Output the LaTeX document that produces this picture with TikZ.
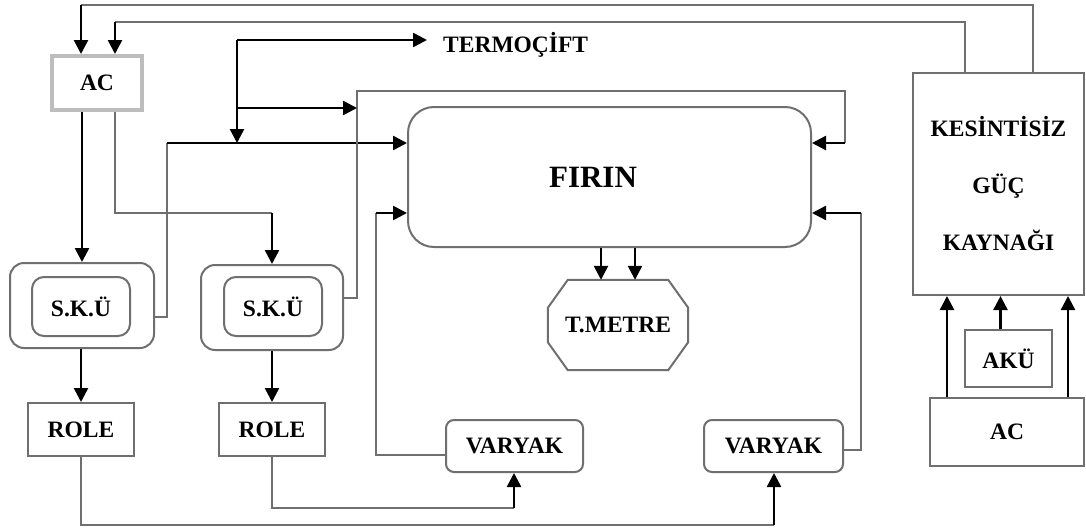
\documentclass[tikz,border=0pt]{standalone}
\usepackage{fontspec}
\setmainfont{Liberation Serif}
\usetikzlibrary{arrows.meta}
\definecolor{edge}{HTML}{6F6F6F}
\definecolor{lightedge}{HTML}{BDBDBD}
\tikzset{
  txt/.style={font=\fontsize{23.5}{28}\selectfont\bfseries, text=black},
  box/.style={txt, draw=edge, line width=2pt, inner sep=0pt},
  gline/.style={draw=edge, line width=2pt},
  barrow/.style={draw=black, line width=2.5pt, -{Triangle[length=14pt,width=14pt]}},
}
\begin{document}
\begin{tikzpicture}[x=1pt,y=-1pt]
\useasboundingbox (0,0) rectangle (1086,530);
\fill[white] (0,0) rectangle (1086,530);

% ---- blocks ----
\node[box, draw=lightedge, line width=4pt, minimum width=90pt, minimum height=54pt] (ac1) at (97,83) {AC};
\node[box, align=center, minimum width=171pt, minimum height=222pt] (kgk) at (998.5,184)
  {KESİNTİSİZ\\[29pt]GÜÇ\\[29pt]KAYNAĞI};
\node[box, minimum width=87pt, minimum height=57pt] (aku) at (1008.5,358.5) {AKÜ};
\node[box, minimum width=154pt, minimum height=68pt] (ac2) at (1007,432) {AC};

\node[box, rounded corners=26pt, minimum width=403pt, minimum height=140pt,
      font=\fontsize{31}{36}\selectfont\bfseries] (firin) at (609.5,177) {\hspace*{-33pt}FIRIN};

% thermometer: octagonal outline around a text node
\node[txt, inner sep=0pt, minimum width=140pt, minimum height=90pt] (tmetre) at (618,325) {T.METRE};
\draw[gline] ([xshift=20pt]tmetre.north west) -- ([xshift=-20pt]tmetre.north east)
  -- ([yshift=-28pt]tmetre.north east) -- ([yshift=28pt]tmetre.south east)
  -- ([xshift=-20pt]tmetre.south east) -- ([xshift=20pt]tmetre.south west)
  -- ([yshift=28pt]tmetre.south west) -- ([yshift=-28pt]tmetre.north west) -- cycle;

\node[txt, anchor=west, inner sep=0pt, inner xsep=16pt] (term) at (427,45) {TERMOÇİFT};

% temperature control units (outer frame + inner unit)
\node[box, rounded corners=14pt, minimum width=144pt, minimum height=85pt] (skuA) at (82,305.5) {};
\node[box, rounded corners=12pt, minimum width=98pt, minimum height=59pt] (skuAin) at (81,306.5) {S.K.Ü};
\node[box, rounded corners=14pt, minimum width=142pt, minimum height=85pt] (skuB) at (272,307.5) {};
\node[box, rounded corners=12pt, minimum width=98pt, minimum height=59pt] (skuBin) at (273,306.5) {S.K.Ü};

\node[box, minimum width=106pt, minimum height=53pt] (roleA) at (81,429.5) {ROLE};
\node[box, minimum width=106pt, minimum height=53pt] (roleB) at (272,429.5) {ROLE};

\node[box, rounded corners=8pt, minimum width=137pt, minimum height=52pt] (varA) at (514.5,446) {VARYAK};
\node[box, rounded corners=8pt, minimum width=139pt, minimum height=52pt] (varB) at (773.5,446) {VARYAK};

% ---- routing points ----
\coordinate (t1) at (81,5);
\coordinate (t2) at (115,22);
\coordinate (g1) at ([xshift=121pt]kgk.north west);
\coordinate (g2) at ([xshift=53pt]kgk.north west);
\coordinate (a2) at ([xshift=18pt]ac1.south);
\coordinate (j1) at (272,213);
\coordinate (j2) at (167,143);
\coordinate (j3) at (357,91);
\coordinate (j4) at (845,143);
\coordinate (j5) at (376,213);
\coordinate (j6) at (774,525);
\coordinate (j7) at (514,508);
\coordinate (j8) at (861,213);
\coordinate (k0) at (237,40);
\coordinate (k1) at (237,108);
\coordinate (k2) at (237,143);
\coordinate (m1) at ([xshift=-17pt]tmetre.north);
\coordinate (m2) at ([xshift=17pt]tmetre.north);
\coordinate (u1) at ([xshift=35pt]kgk.south west);
\coordinate (u2) at ([xshift=156pt]kgk.south west);
\coordinate (u3) at ([xshift=-8pt]aku.north);

% ---- UPS feedback to AC ----
\draw[gline] (g1) |- (t1);
\draw[barrow] (t1) -- (t1 |- ac1.north);
\draw[gline] (g2) |- (t2);
\draw[barrow] (t2) -- (t2 |- ac1.north);

% ---- AC to control units ----
\draw[barrow] (skuA.north |- ac1.south) -- (skuA.north);
\draw[gline] (a2) |- (j1);
\draw[barrow] (j1) -- (skuB.north);

% ---- control units to relays ----
\draw[barrow] (roleA.north |- skuA.south) -- (roleA.north);
\draw[barrow] (roleB.north |- skuB.south) -- (roleB.north);

% ---- control units to furnace ----
\draw[gline] ([yshift=-11.5pt]skuA.east) -| (j2);
\draw[barrow] (j2) -- (j2 -| firin.west);
\draw[gline] ([yshift=9.5pt]skuB.east) -| (j3) -| (j4);
\draw[barrow] (j4) -- (j4 -| firin.east);

% ---- thermocouple ----
\draw[barrow] (k0) -- (k0 -| term.west);
\draw[barrow] (k0) -- (k2);
\draw[barrow] (k1) -- (k1 -| j3);

% ---- variacs to furnace ----
\draw[gline] ([yshift=-9pt]varA.west) -| (j5);
\draw[barrow] (j5) -- (j5 -| firin.west);
\draw[gline] ([yshift=-4pt]varB.east) -| (j8);
\draw[barrow] (j8) -- (j8 -| firin.east);

% ---- relays to variacs ----
\draw[gline] (roleA.south) |- (j6);
\draw[barrow] (j6) -- (j6 |- varB.south);
\draw[gline] (roleB.south) |- (j7);
\draw[barrow] (j7) -- (j7 |- varA.south);

% ---- furnace to thermometer ----
\draw[barrow] (m1 |- firin.south) -- (m1);
\draw[barrow] (m2 |- firin.south) -- (m2);

% ---- supply side ----
\draw[barrow] (u1 |- ac2.north) -- (u1);
\draw[barrow] (u2 |- ac2.north) -- (u2);
\draw[barrow] (u3) -- (u3 |- kgk.south);
\end{tikzpicture}
\end{document}
